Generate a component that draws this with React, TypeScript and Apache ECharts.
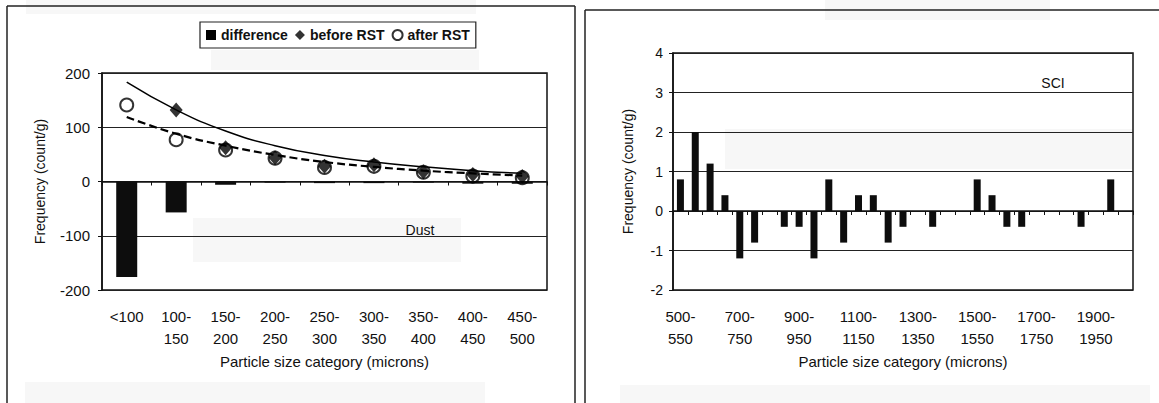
import React, { useEffect, useRef } from "react";
import * as echarts from "echarts";

// ---------- Left panel (Dust) ----------
const leftCategories = ["<100", "100-150", "150-200", "200-250", "250-300", "300-350", "350-400", "400-450", "450-500"];
const differenceValues = [-176, -57, -6, -2, -3, -3, -2, -4, -4];
const beforeRstValues = ["-", 132, 62, 44, 28, 31, 18, 13, 9];
const afterRstValues = [141, 77, 58, 43, 26, 28, 17, 10, 7];
const beforeTrendValues = [183, 132, 93, 66, 48, 36, 27, 20, 15];
const afterTrendValues = [119, 88, 66, 49, 36, 27, 20, 15, 11];
const leftYMin = -200;
const leftYMax = 200;
const leftYStep = 100;

// ---------- Right panel (SCI) ----------
const rightCategories = [
  "500-550", "550-600", "600-650", "650-700", "700-750", "750-800", "800-850", "850-900",
  "900-950", "950-1000", "1000-1050", "1050-1100", "1100-1150", "1150-1200", "1200-1250", "1250-1300",
  "1300-1350", "1350-1400", "1400-1450", "1450-1500", "1500-1550", "1550-1600", "1600-1650", "1650-1700",
  "1700-1750", "1750-1800", "1800-1850", "1850-1900", "1900-1950", "1950-2000", "2000-2050",
];
const sciValues = [
  0.8, 2.0, 1.2, 0.4, -1.2, -0.8, 0, -0.4,
  -0.4, -1.2, 0.8, -0.8, 0.4, 0.4, -0.8, -0.4,
  0, -0.4, 0, 0, 0.8, 0.4, -0.4, -0.4,
  0, 0, 0, -0.4, 0, 0.8, 0,
];
const rightYMin = -2;
const rightYMax = 4;
const rightYStep = 1;

const FONT = "'Liberation Sans', Arial, sans-serif";
const INK = "#111";

const splitLabel = (v: string) => (v.indexOf("-") > 0 ? v.replace("-", "-\n") : v);

export default function App() {
  const ref = useRef<HTMLDivElement>(null);

  useEffect(() => {
    if (!ref.current) return;
    const chart = echarts.init(ref.current, undefined, { renderer: "svg" });

    const zeroAxis = (gridIndex: number, data: string[]) => ({
      type: "category",
      gridIndex,
      data,
      axisLine: { show: true, onZero: true, lineStyle: { color: INK, width: 1.5 } },
      axisTick: { show: true, length: 4, interval: 0, lineStyle: { color: INK, width: 1 } },
      axisLabel: { show: false },
      splitLine: { show: false },
    });
    const labelAxis = (gridIndex: number, data: string[], interval: number) => ({
      type: "category",
      gridIndex,
      data,
      position: "bottom",
      axisLine: { show: false, onZero: false },
      axisTick: { show: false },
      axisLabel: {
        interval,
        fontSize: 15,
        lineHeight: 22,
        color: INK,
        margin: 15,
        fontFamily: FONT,
        formatter: splitLabel,
      },
      name: "Particle size category (microns)",
      nameLocation: "middle",
      nameGap: 64,
      nameTextStyle: { fontSize: 15, color: INK, fontFamily: FONT },
    });
    const valueAxis = (gridIndex: number, min: number, max: number, step: number, fontSize: number, margin: number, nameGap: number) => ({
      type: "value",
      gridIndex,
      min,
      max,
      interval: step,
      axisLine: { show: true, lineStyle: { color: INK, width: 1.5 } },
      axisTick: { show: true, length: 4, lineStyle: { color: INK } },
      axisLabel: { fontSize, color: INK, margin, fontFamily: FONT },
      splitLine: { show: true, lineStyle: { color: "#222", width: 1 } },
      name: "Frequency (count/g)",
      nameLocation: "middle",
      nameRotate: 90,
      nameGap,
      nameTextStyle: { fontSize: 14, color: INK, fontFamily: FONT },
    });

    const grayArtifact = (x: number, y: number, w: number, h: number) => ({
      type: "rect",
      z: -10,
      silent: true,
      shape: { x, y, width: w, height: h },
      style: { fill: "#f7f7f7" },
    });
    const frameLine = (x1: number, y1: number, x2: number, y2: number) => ({
      type: "line",
      z: 50,
      silent: true,
      shape: { x1, y1, x2, y2 },
      style: { stroke: "#222", lineWidth: 1.5 },
    });

    chart.setOption({
      animation: false,
      backgroundColor: "#ffffff",
      textStyle: { fontFamily: FONT, color: INK },
      legend: {
        left: 200,
        top: 22,
        orient: "horizontal",
        selectedMode: false,
        backgroundColor: "#fff",
        borderColor: "#222",
        borderWidth: 1.2,
        padding: [6, 6],
        itemWidth: 10,
        itemHeight: 10,
        itemGap: 7,
        textStyle: { fontSize: 14, fontWeight: "bold", color: INK, fontFamily: FONT },
        data: [
          { name: "difference", icon: "rect", itemStyle: { color: "#000" } },
          { name: "before RST", icon: "diamond", itemStyle: { color: "#000" } },
          { name: "after RST", icon: "circle", itemStyle: { color: "rgba(255,255,255,0)", borderColor: "#000", borderWidth: 2 } },
        ],
      },
      grid: [
        { left: 102, top: 73, width: 445, height: 217, show: true, borderColor: INK, borderWidth: 1.5, backgroundColor: "transparent" },
        { left: 673, top: 53, width: 460, height: 237, show: true, borderColor: INK, borderWidth: 1.5, backgroundColor: "transparent" },
      ],
      xAxis: [
        zeroAxis(0, leftCategories),
        labelAxis(0, leftCategories, 0),
        zeroAxis(1, rightCategories),
        labelAxis(1, rightCategories, 3),
      ],
      yAxis: [
        valueAxis(0, leftYMin, leftYMax, leftYStep, 15, 12, 55),
        valueAxis(1, rightYMin, rightYMax, rightYStep, 14, 10, 38),
      ],
      graphic: [
        grayArtifact(26, 0, 450, 14),
        grayArtifact(211, 50, 268, 20),
        grayArtifact(193, 218, 268, 44),
        grayArtifact(25, 382, 460, 21),
        grayArtifact(825, 0, 225, 20),
        grayArtifact(725, 129, 408, 40),
        grayArtifact(620, 385, 530, 18),
        frameLine(7, 6, 7, 403),
        frameLine(7, 6, 575, 6),
        frameLine(575, 6, 575, 403),
        frameLine(585, 10, 585, 403),
        frameLine(585, 10, 1159, 10),
        {
          type: "text",
          z: 60,
          x: 420,
          y: 230,
          style: { text: "Dust", fontSize: 14, fontFamily: FONT, fill: INK, align: "center", verticalAlign: "middle" },
        },
        {
          type: "text",
          z: 60,
          x: 1053,
          y: 83,
          style: { text: "SCI", fontSize: 14, fontFamily: FONT, fill: INK, align: "center", verticalAlign: "middle" },
        },
      ],
      series: [
        {
          name: "difference",
          type: "bar",
          xAxisIndex: 0,
          yAxisIndex: 0,
          data: differenceValues,
          barWidth: 21,
          itemStyle: { color: "#0d0d0d" },
          z: 2,
        },
        {
          name: "before trend",
          type: "line",
          xAxisIndex: 0,
          yAxisIndex: 0,
          data: beforeTrendValues,
          smooth: 0.5,
          symbol: "none",
          lineStyle: { color: "#000", width: 1.5 },
          z: 3,
        },
        {
          name: "after trend",
          type: "line",
          xAxisIndex: 0,
          yAxisIndex: 0,
          data: afterTrendValues,
          smooth: 0.5,
          symbol: "none",
          lineStyle: { color: "#000", width: 2.2, type: [8, 4] },
          z: 3,
        },
        {
          name: "before RST",
          type: "scatter",
          xAxisIndex: 0,
          yAxisIndex: 0,
          data: beforeRstValues,
          symbol: "diamond",
          symbolSize: [13, 15],
          itemStyle: { color: "#000" },
          z: 4,
        },
        {
          name: "after RST",
          type: "scatter",
          xAxisIndex: 0,
          yAxisIndex: 0,
          data: afterRstValues,
          symbol: "circle",
          symbolSize: 13,
          itemStyle: { color: "rgba(255,255,255,0)", borderColor: "#000", borderWidth: 2 },
          z: 5,
        },
        {
          name: "SCI difference",
          type: "bar",
          xAxisIndex: 2,
          yAxisIndex: 1,
          data: sciValues,
          barWidth: 7,
          itemStyle: { color: "#0d0d0d" },
        },
      ],
    });

    return () => chart.dispose();
  }, []);

  return (
    <div
      ref={ref}
      style={{ position: "fixed", left: 0, top: 0, width: 1159, height: 403, background: "#fff" }}
    />
  );
}
